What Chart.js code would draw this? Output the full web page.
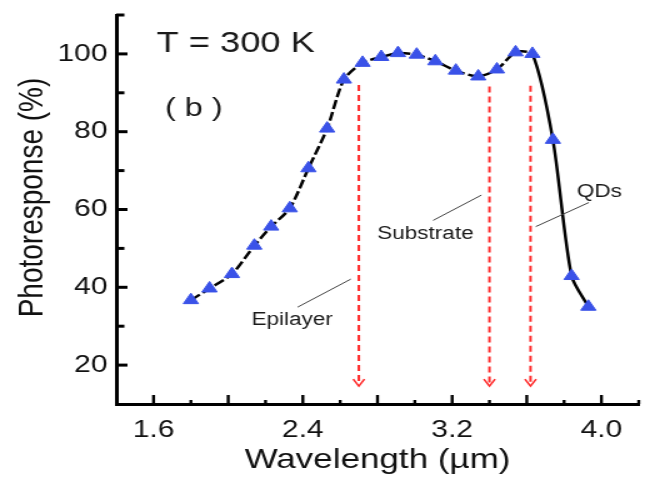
<!DOCTYPE html>
<html>
<head>
<meta charset="utf-8">
<script src="https://cdn.jsdelivr.net/npm/chart.js@4"></script>
<style>
  html, body { margin: 0; padding: 0; background: #fff; }
  /* the original figure is stretched sideways, so draw narrow and scale */
  #wrap { width: 520px; height: 477px; transform: scaleX(1.25); transform-origin: 0 0; }
</style>
</head>
<body>
<div id="wrap"><canvas id="spectrum" width="520" height="477"></canvas></div>
<script>
// measured photoresponse, 300 K
const wavelength = [1.80, 1.90, 2.02, 2.14, 2.23, 2.33, 2.43, 2.53, 2.62, 2.72, 2.82,
  2.91, 3.01, 3.11, 3.22, 3.34, 3.44, 3.54, 3.63, 3.74, 3.84, 3.93];
const response = [36.7, 39.7, 43.4, 50.7, 55.6, 60.3, 70.6, 80.8, 93.4, 97.7, 99.2,
  100.2, 99.8, 98.1, 95.7, 94.2, 96.0, 100.4, 100.0, 77.9, 42.9, 35.0];

const xLabelled = [1.6, 2.4, 3.2, 4.0];
const yLabelled = [20, 40, 60, 80, 100];

// red cut-off arrows
const arrowX = [2.70, 3.40, 3.62];
const arrowTop = [92.0, 91.6, 91.8];
const arrowTip = 14.6;

// annotation texts and their leader lines
const noteText = ['Epilayer', 'Substrate', 'QDs'];
const noteX = [2.343, 3.057, 3.989];
const noteY = [30.3, 52.4, 63.3];
const leaderX0 = [2.372, 3.098, 3.648];
const leaderY0 = [34.9, 57.2, 55.6];
const leaderX1 = [2.657, 3.357, 3.933];
const leaderY1 = [42.1, 63.7, 61.8];

const FONT = '"Liberation Sans", Arial, sans-serif';
const blue = 'rgb(58, 82, 232)';

const overlay = {
  id: 'overlay',
  afterDraw(chart) {
    const ctx = chart.ctx;
    const a = chart.chartArea;
    const x = chart.scales.x, y = chart.scales.y;
    ctx.save();

    // inward ticks
    ctx.strokeStyle = '#000';
    ctx.lineWidth = 2.4;
    x.ticks.forEach(t => {
      const px = x.getPixelForValue(t.value);
      if (px < a.left + 2) return;
      const len = Math.round(t.value * 10) % 4 === 0 ? 9 : 4;
      ctx.beginPath();
      ctx.moveTo(px, a.bottom);
      ctx.lineTo(px, a.bottom - len);
      ctx.stroke();
    });
    ctx.lineWidth = 3;
    y.ticks.forEach(t => {
      const py = y.getPixelForValue(t.value);
      if (py > a.bottom - 2) return;
      const len = t.value % 20 === 0 ? 9 : 6.5;
      ctx.beginPath();
      ctx.moveTo(a.left, py);
      ctx.lineTo(a.left + len, py);
      ctx.stroke();
    });

    // dashed red arrows
    ctx.strokeStyle = '#ff2a2a';
    ctx.lineWidth = 2;
    arrowX.forEach((v, i) => {
      const px = x.getPixelForValue(v);
      const top = y.getPixelForValue(arrowTop[i]);
      const tip = y.getPixelForValue(arrowTip);
      ctx.setLineDash([6, 4]);
      ctx.beginPath();
      ctx.moveTo(px, top);
      ctx.lineTo(px, tip - 1);
      ctx.stroke();
      ctx.setLineDash([]);
      ctx.lineWidth = 1.6;
      ctx.beginPath();
      ctx.moveTo(px - 4.5, tip - 7);
      ctx.lineTo(px, tip);
      ctx.lineTo(px + 4.5, tip - 7);
      ctx.stroke();
      ctx.lineWidth = 2;
    });

    // leader lines
    ctx.strokeStyle = '#444';
    ctx.lineWidth = 1;
    leaderX0.forEach((v, i) => {
      ctx.beginPath();
      ctx.moveTo(x.getPixelForValue(v), y.getPixelForValue(leaderY0[i]));
      ctx.lineTo(x.getPixelForValue(leaderX1[i]), y.getPixelForValue(leaderY1[i]));
      ctx.stroke();
    });

    // notes
    ctx.fillStyle = '#1a1a1a';
    ctx.font = '18px ' + FONT;
    ctx.textAlign = 'center';
    ctx.textBaseline = 'alphabetic';
    noteText.forEach((s, i) => {
      ctx.fillText(s, x.getPixelForValue(noteX[i]), y.getPixelForValue(noteY[i]));
    });

    ctx.textAlign = 'left';
    ctx.font = '29px ' + FONT;
    ctx.fillText('T = 300 K', x.getPixelForValue(1.616), y.getPixelForValue(100.6));
    ctx.font = '26px ' + FONT;
    ctx.fillText('( b )', x.getPixelForValue(1.661), y.getPixelForValue(84.1));

    // axis titles
    ctx.fillStyle = '#111';
    ctx.font = '28px ' + FONT;
    ctx.textAlign = 'center';
    ctx.fillText('Wavelength (\u00b5m)', (a.left + a.right) / 2, a.bottom + 64);
    ctx.translate(34.4, (a.top + a.bottom) / 2 - 12);
    ctx.rotate(-Math.PI / 2);
    ctx.fillText('Photoresponse (%)', 0, 0);

    ctx.restore();
  }
};

const ctx = document.getElementById('spectrum').getContext('2d');

new Chart(ctx, {
  type: 'line',
  data: {
    datasets: [{
      data: wavelength.map((w, i) => ({ x: w, y: response[i] })),
      borderColor: '#000',
      borderWidth: 2.5,
      borderDash: [9, 3],
      segment: {
        borderDash: c => (c.p0.parsed.x >= 3.6 ? [] : undefined)
      },
      tension: 0.25,
      pointStyle: 'triangle',
      pointRadius: 7,
      pointBackgroundColor: blue,
      pointBorderColor: blue,
      pointBorderWidth: 1,
      fill: false
    }]
  },
  options: {
    responsive: false,
    animation: false,
    devicePixelRatio: 1,
    layout: { padding: { top: 15, right: 9, left: 0, bottom: 0 } },
    plugins: { legend: { display: false }, tooltip: { enabled: false } },
    scales: {
      x: {
        type: 'linear',
        min: 1.4,
        max: 4.2,
        afterFit: s => {
          s.height = 73;
          s.paddingLeft = 0;
          s.paddingRight = 0;
        },
        grid: { display: false, drawTicks: false },
        border: { display: true, color: '#000', width: 3 },
        ticks: {
          stepSize: 0.2,
          autoSkip: false,
          maxRotation: 0,
          padding: 12,
          color: '#111',
          font: { family: FONT, size: 24 },
          callback: v => (xLabelled.some(l => Math.abs(l - v) < 1e-6) ? v.toFixed(1) : '')
        }
      },
      y: {
        min: 10,
        max: 110,
        afterFit: s => {
          s.width = 93;
          s.paddingTop = 0;
          s.paddingBottom = 0;
        },
        grid: { display: false, drawTicks: false },
        border: { display: true, color: '#000', width: 3 },
        ticks: {
          stepSize: 10,
          autoSkip: false,
          padding: 7,
          color: '#111',
          font: { family: FONT, size: 24 },
          callback: v => (yLabelled.includes(v) ? String(v) : '')
        }
      }
    }
  },
  plugins: [overlay]
});
</script>
</body>
</html>
